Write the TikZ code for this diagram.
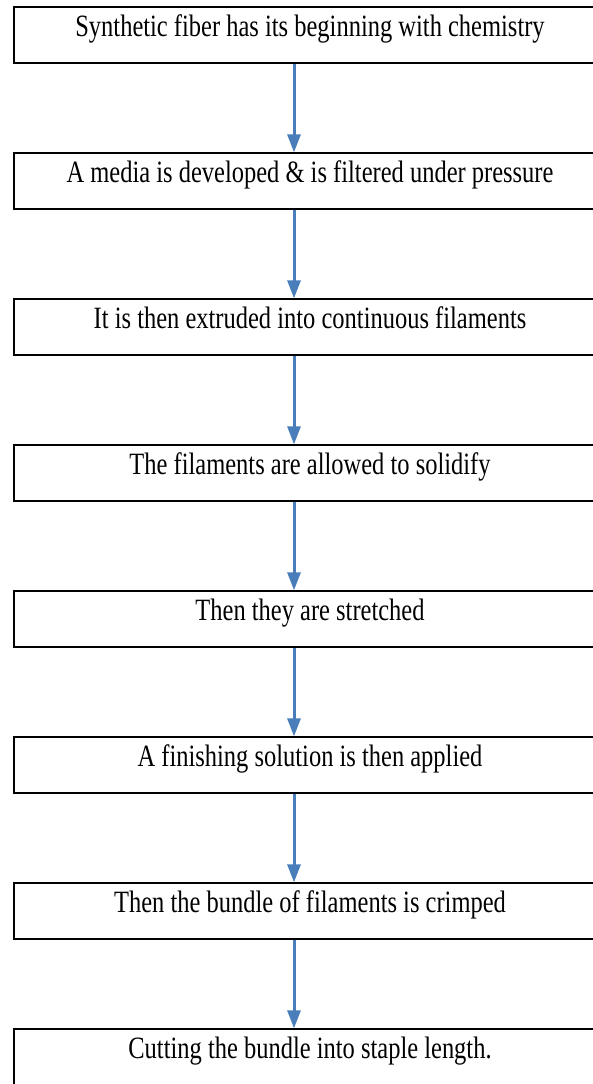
\documentclass[tikz,border=0pt]{standalone}
\usepackage{fontspec}
\setmainfont{Liberation Serif}[FakeStretch=0.79]
\usepackage{xcolor}
\usepackage{tikz}
\usetikzlibrary{arrows.meta, positioning}

\definecolor{flowblue}{HTML}{4A7EBB}

\begin{document}
\begin{tikzpicture}[
            x=1pt, y=1pt,
            stepbox/.style={rectangle, draw, line width=1.3pt, fill=white,
                    minimum width=592pt, minimum height=56pt,
                    font=\fontsize{31}{33}\selectfont, align=center,
                    text depth=18pt},
            flow/.style={draw=flowblue, line width=3pt,
                    -{Triangle[width=13pt,length=18pt]}}
            ]

            \useasboundingbox (0,0) rectangle (593,-1084);
            \clip (0,0) rectangle (593,-1084);

            %% ---- Steps ----
            \node[stepbox] (chem) at (310,-35) {Synthetic fiber has its beginning with chemistry};
            \node[stepbox, below=88.7pt of chem] (media)   {A media is developed \& is filtered under pressure};
            \node[stepbox, below=88.7pt of media] (extrude) {It is then extruded into continuous filaments};
            \node[stepbox, below=88.7pt of extrude] (solid)  {The filaments are allowed to solidify};
            \node[stepbox, below=88.7pt of solid] (stretch)  {Then they are stretched};
            \node[stepbox, below=88.7pt of stretch] (finish) {A finishing solution is then applied};
            \node[stepbox, below=88.7pt of finish] (crimp)   {Then the bundle of filaments is crimped};
            \node[stepbox, below=88.7pt of crimp] (cut)      {Cutting the bundle into staple length.};

            %% ---- Arrows ----
            \draw[flow] ([xshift=-16pt]chem.south) -- ([xshift=-16pt]media.north);
            \draw[flow] ([xshift=-16pt]media.south) -- ([xshift=-16pt]extrude.north);
            \draw[flow] ([xshift=-16pt]extrude.south) -- ([xshift=-16pt]solid.north);
            \draw[flow] ([xshift=-16pt]solid.south) -- ([xshift=-16pt]stretch.north);
            \draw[flow] ([xshift=-16pt]stretch.south) -- ([xshift=-16pt]finish.north);
            \draw[flow] ([xshift=-16pt]finish.south) -- ([xshift=-16pt]crimp.north);
            \draw[flow] ([xshift=-16pt]crimp.south) -- ([xshift=-16pt]cut.north);
\end{tikzpicture}
\end{document}
